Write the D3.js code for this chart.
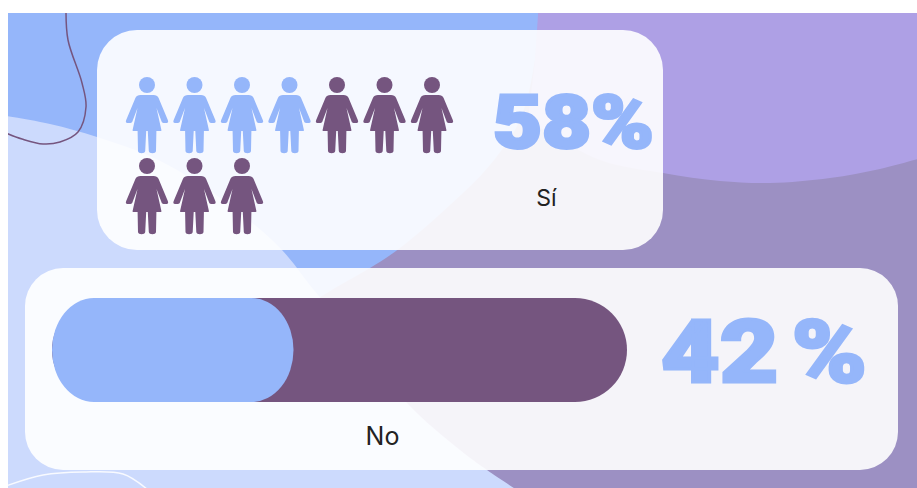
<!DOCTYPE html>
<html>
<head>
<meta charset="utf-8">
<script src="https://cdn.jsdelivr.net/npm/d3@7"></script>
<style>html,body{margin:0;padding:0;background:#fff;overflow:hidden}svg{display:block}</style>
</head>
<body>
<div id="chart"></div>
<script>
// --- data ---
const categories = ["Sí", "No"];
const percentLabels = ["58%", "42 %"];
const barShare = [42, 58];            // blue part, purple part of the bar
const iconCounts = [4, 6];            // blue icons, purple icons
const iconPerRow = 7;

const W = 917, H = 488;
const BLUE = "#95b6fa", PURPLE = "#75557f";

const svg = d3.select("#chart").append("svg").attr("width", W).attr("height", H);
const defs = svg.append("defs");
defs.append("clipPath").attr("id", "bg").append("rect")
  .attr("x", 8).attr("y", 13).attr("width", W - 8).attr("height", H - 13);

// --- background decoration ---
const bg = svg.append("g").attr("clip-path", "url(#bg)");
const smooth = d3.line().curve(d3.curveCatmullRom.alpha(0.5));
bg.append("rect").attr("x", 8).attr("y", 13).attr("width", W).attr("height", H).attr("fill", BLUE);

const darkPts = [[300,310],[335,288],[370,268],[400,248],[450,205],[490,165],[520,120],[535,60],[539,10]];
bg.append("path").attr("d", "M539,0L917,0L917,488L300,488L300,310" + smooth(darkPts).replace(/^M[^C]*/, "") + "Z")
  .attr("fill", "#9c90c3");

const lavEdge = [[528,120],[600,160],[663,173],[720,181],[770,183],[830,178],[880,169],[925,157]];
bg.append("path").attr("d", "M539,0L535,60L528,120" + smooth(lavEdge).replace(/^M[^C]*/, "") + "L925,0Z")
  .attr("fill", "#aea0e5");

const lightEdge = [[0,115],[50,124],[97,137],[150,156],[200,184],[245,217],[282,250],[318,295],[360,340],[407,403],[460,450],[487,470],[520,492]];
bg.append("path").attr("d", smooth(lightEdge) + "L0,492Z").attr("fill", "#ccdafd");

bg.append("path")
  .attr("d", smooth([[66,10],[68,40],[82,83],[86,107],[78,132],[60,142],[43,144],[22,139],[6,133]]))
  .attr("fill", "none").attr("stroke", PURPLE).attr("stroke-width", 1.5);
bg.append("path")
  .attr("d", smooth([[6,486],[43,475],[83,472],[123,474],[148,490]]))
  .attr("fill", "none").attr("stroke", "#fff").attr("stroke-width", 1.5).attr("opacity", 0.85);

// --- cards ---
const cards = [
  {x: 97, y: 30, w: 566, h: 220, r: 40},
  {x: 25, y: 268, w: 873, h: 202, r: 38}
];
svg.selectAll("rect.card").data(cards).join("rect").attr("class", "card")
  .attr("x", d => d.x).attr("y", d => d.y).attr("width", d => d.w).attr("height", d => d.h)
  .attr("rx", d => d.r).attr("fill", "#fff").attr("fill-opacity", 0.9);

// --- pictogram ---
const iconPath = "M-6.5,18 C-9,18 -10.5,18.8 -11.5,20.8 L-20.8,43 C-21.6,45 -21,46 -19.5,46 L-16.5,46 C-15.6,46 -15,45.6 -14.6,44.6 L-9.5,31 L-14.4,53 C-14.6,53.8 -14.2,54 -13.5,54 L-9.4,54 L-9,74 C-8.8,77 -2,77 -1.8,74 L-0.8,54 L0.8,54 L1.8,74 C2,77 8.8,77 9,74 L9.4,54 L13.5,54 C14.2,54 14.6,53.8 14.4,53 L9.5,31 L14.6,44.6 C15,45.6 15.6,46 16.5,46 L19.5,46 C21,46 21.6,45 20.8,43 L11.5,20.8 C10.5,18.8 9,18 6.5,18 Z";
const icons = d3.range(d3.sum(iconCounts)).map(i => ({
  i,
  col: i % iconPerRow,
  row: Math.floor(i / iconPerRow),
  color: i < iconCounts[0] ? BLUE : PURPLE
}));
const iconX = d3.scalePoint().domain(d3.range(iconPerRow)).range([147, 432]);
const iconY = d3.scalePoint().domain([0, 1]).range([77, 158]);
const ig = svg.selectAll("g.icon").data(icons).join("g").attr("class", "icon")
  .attr("transform", d => `translate(${iconX(d.col)},${iconY(d.row)})`).attr("fill", d => d.color);
ig.append("circle").attr("cx", 0).attr("cy", 8).attr("r", 8);
ig.append("path").attr("d", iconPath);

// --- bar ---
const barX = d3.scaleLinear().domain([0, 100]).range([52, 627]);
svg.append("rect").attr("x", barX(0)).attr("y", 298)
  .attr("width", barX(100) - barX(0)).attr("height", 104).attr("rx", 52).attr("fill", PURPLE);
svg.append("rect").attr("x", barX(0)).attr("y", 298)
  .attr("width", barX(barShare[0]) - barX(0)).attr("height", 104).attr("rx", 42).attr("ry", 52).attr("fill", BLUE);

// --- text ---
const pctStyle = [
  {x: 573.5, y: 147.5, size: 74, len: 161, sw: 3, ws: 0},
  {x: 764, y: 381.5, size: 87, len: 206, sw: 3, ws: -10}
];
svg.selectAll("text.pct").data(percentLabels).join("text").attr("class", "pct")
  .attr("x", (d, i) => pctStyle[i].x).attr("y", (d, i) => pctStyle[i].y)
  .attr("text-anchor", "middle").attr("font-family", "Roboto, sans-serif").attr("font-weight", 900)
  .attr("font-size", (d, i) => pctStyle[i].size)
  .attr("word-spacing", (d, i) => pctStyle[i].ws)
  .attr("textLength", (d, i) => pctStyle[i].len).attr("lengthAdjust", "spacingAndGlyphs")
  .attr("fill", BLUE).attr("stroke", BLUE).attr("stroke-linejoin", "miter")
  .attr("stroke-width", (d, i) => pctStyle[i].sw).text(d => d);

const catStyle = [{x: 546.5, y: 206, size: 23}, {x: 382.5, y: 445, size: 25}];
svg.selectAll("text.cat").data(categories).join("text").attr("class", "cat")
  .attr("x", (d, i) => catStyle[i].x).attr("y", (d, i) => catStyle[i].y)
  .attr("text-anchor", "middle").attr("font-family", "Inter, Roboto, sans-serif")
  .attr("font-size", (d, i) => catStyle[i].size).attr("fill", "#222").text(d => d);
</script>
</body>
</html>
